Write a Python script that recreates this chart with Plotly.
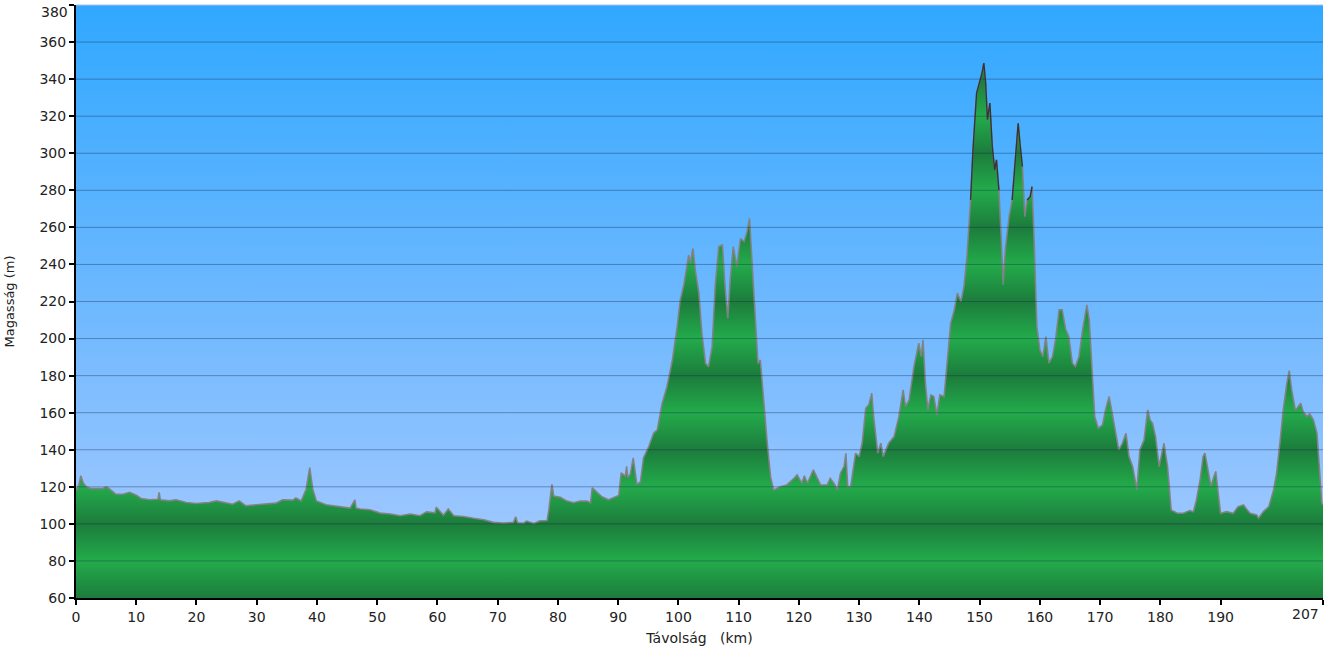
import plotly.graph_objects as go

# ---- data ----
dist_km = [0, 0.5, 0.8, 1.2, 1.7, 2.5, 3.5, 4.4, 5.0, 5.5, 6.6, 7.8, 8.9, 10.0, 10.8, 12.2, 13.6, 13.8, 14.0,
           15.5, 16.6, 18.3, 19.9, 22.1, 23.3, 24.4, 26.0, 27.1, 28.2, 29.9, 31.6, 33.2, 34.3, 36.0, 36.5, 37.4,
           38.2, 38.8, 39.3, 39.9, 41.5, 42.2, 43.9, 45.5, 46.3, 46.5, 47.2, 48.8, 50.5, 52.2, 53.8, 55.5, 57.1,
           58.2, 59.6, 59.8, 61.0, 61.8, 62.7, 64.3, 66.0, 67.7, 69.3, 71.0, 72.6, 73.0, 73.3, 74.3, 74.8, 76.0,
           77.0, 78.2, 78.5, 79.0, 79.3, 80.4, 81.5, 82.6, 83.7, 84.8, 85.4, 85.7, 86.5, 87.3, 88.4, 89.3, 90.1,
           90.5, 91.2, 91.4, 91.6, 92.0, 92.5, 93.1, 93.7, 94.2, 95.1, 95.9, 96.5, 97.3, 98.1, 99.0, 99.8, 100.3,
           100.9, 101.7, 102.0, 102.4, 102.8, 103.4, 103.9, 104.5, 105.0, 105.6, 106.1, 106.7, 107.3, 107.7,
           108.2, 108.6, 109.1, 109.7, 110.3, 110.9, 111.4, 111.8, 112.2, 112.8, 113.2, 113.6, 114.1, 114.7,
           115.3, 115.8, 116.9, 118.0, 119.2, 119.7, 120.5, 120.9, 121.4, 122.4, 123.6, 124.7, 125.2, 125.8,
           126.4, 126.9, 127.5, 127.8, 128.1, 128.6, 129.4, 130.0, 130.5, 131.1, 131.6, 132.1, 132.4, 133.1,
           133.6, 134.0, 134.9, 135.8, 136.6, 137.3, 137.7, 138.3, 139.1, 139.9, 140.3, 140.6, 141.0, 141.4,
           141.9, 142.4, 142.9, 143.4, 144.1, 144.6, 145.2, 145.8, 146.3, 146.9, 147.4, 147.9, 148.5, 148.9,
           149.5, 150.1, 150.4, 150.7, 151.0, 151.3, 151.7, 152.1, 152.5, 152.8, 153.2, 153.6, 153.9, 154.3,
           154.9, 155.4, 156.0, 156.4, 156.7, 157.1, 157.5, 157.9, 158.4, 158.7, 159.0, 159.5, 160.0, 160.5,
           161.0, 161.5, 162.1, 162.6, 163.2, 163.7, 164.3, 164.8, 165.4, 165.9, 166.5, 167.1, 167.8, 168.2,
           168.7, 169.1, 169.7, 170.4, 170.9, 171.5, 172.0, 172.6, 173.1, 173.7, 174.3, 174.8, 175.4, 176.1,
           176.6, 177.3, 177.9, 178.3, 178.7, 179.2, 179.8, 180.6, 181.2, 181.8, 182.8, 183.8, 184.9, 185.5,
           186.0, 186.6, 187.1, 187.4, 187.9, 188.4, 188.9, 189.2, 189.6, 190.0, 191.0, 192.1, 192.9, 193.8,
           194.3, 194.9, 196.0, 196.3, 197.1, 198.0, 198.8, 199.3, 199.9, 200.4, 201.0, 201.4, 201.8, 202.4,
           202.7, 203.3, 203.7, 204.3, 204.8, 205.4, 206.0, 206.4, 206.8, 207.0]

elev_m = [118, 121, 126, 122, 120, 119, 119, 119, 120, 119, 116, 116, 117, 115.5, 113.7, 113, 113.3, 117, 113,
          112.4, 113, 111.5, 111, 111.5, 112.4, 111.5, 110.6, 112.4, 109.7, 110.3, 110.6, 111.2, 113, 112.8, 114,
          112.4, 118.7, 130.4, 118.7, 112.4, 110.3, 110, 109.4, 108.5, 113, 108.5, 108, 107.6, 105.8, 105.3,
          104.4, 105.3, 104.4, 106.5, 106, 109, 104.7, 108, 104.4, 104, 103, 102.2, 100.8, 100.4, 100.8, 103.8,
          100.6, 100.4, 101.5, 100.2, 101.6, 101.8, 107.8, 121.3, 115, 114.4, 112.3, 111.4, 112.3, 112.3, 111.4,
          119.5, 117, 114.6, 113, 114.4, 115.3, 127.5, 125.7, 131, 125, 126.6, 135.6, 121.3, 122.6, 135.6, 141.9,
          149, 150.8, 165, 174, 188.4, 206.4, 220.8, 228.9, 245, 240.5, 248.7, 237, 224.4, 202.8, 186.6, 184.8,
          195.6, 228, 249.6, 250.5, 229.8, 210.9, 231.6, 249.6, 238.8, 254, 252.3, 257.7, 264.9, 244.2, 211.8,
          186.6, 188.4, 166.8, 145.2, 125.4, 118.2, 120, 121, 124.6, 126.4, 121.9, 126, 121.9, 129.1, 121, 121,
          124.6, 121.9, 118.3, 127.3, 130.9, 138.1, 120.1, 120.1, 138.1, 136.3, 143.5, 162.4, 164.2, 170.5,
          157.9, 138.1, 143.5, 136.3, 143.5, 147.1, 157.9, 172.3, 163.3, 166.9, 184.9, 197.5, 190.3, 199.3,
          175.9, 161.5, 169.6, 168.7, 158.8, 169.6, 168.7, 186.7, 208.3, 215.5, 224.5, 220, 228.1, 244.3, 274.9,
          301.9, 332.5, 339.7, 343.3, 348.7, 337.9, 318.1, 327.1, 303.7, 291, 296.4, 280.2, 253.2, 229, 249, 266,
          274.8, 301.8, 316.2, 305.4, 292.8, 265.8, 274.8, 276.6, 282, 256.8, 206.5, 193.9, 190.3, 201.1, 186.7,
          190.3, 199.3, 215.5, 215.5, 204.7, 201.1, 186.7, 184.9, 190.3, 204.7, 218.2, 210.1, 181.3, 157.9,
          151.6, 153.4, 161.5, 168.7, 159.7, 148.9, 139.9, 143.5, 148.9, 136.3, 130.9, 118.3, 139.9, 145.3,
          161.5, 156.1, 154.3, 147.1, 130.9, 143.5, 130.9, 107.5, 105.7, 105.7, 107.2, 106.6, 113, 123.8, 136.4,
          138.2, 129.2, 120.2, 125.6, 128.3, 116.6, 105.7, 106.6, 105.7, 109.3, 110.2, 108, 105.7, 104.8, 103,
          106.6, 109.3, 118.3, 127.3, 145.3, 161.5, 175.9, 182.7, 172.3, 161.5, 162.4, 165.1, 160.6, 157.9,
          159.3, 156.1, 148.9, 130.9, 111.1, 110.2]

x_tick_vals = [0, 10, 20, 30, 40, 50, 60, 70, 80, 90, 100, 110, 120, 130, 140, 150, 160, 170, 180, 190, 207]
x_tick_text = ["0", "10", "20", "30", "40", "50", "60", "70", "80", "90", "100", "110", "120", "130",
               "140", "150", "160", "170", "180", "190", ""]
y_tick_vals = [60, 80, 100, 120, 140, 160, 180, 200, 220, 240, 260, 280, 300, 320, 340, 360, 380]
y_tick_text = ["60", "80", "100", "120", "140", "160", "180", "200", "220", "240", "260", "280", "300",
               "320", "340", "360", ""]
y_grid_vals = [80, 100, 120, 140, 160, 180, 200, 220, 240, 260, 280, 300, 320, 340, 360]

X_MIN, X_MAX = 0, 207
Y_MIN, Y_MAX = 60, 380

FONT = "DejaVu Sans"

fig = go.Figure()

# sky gradient background
fig.add_trace(go.Scatter(
    x=[X_MIN, X_MAX, X_MAX, X_MIN, X_MIN], y=[Y_MIN, Y_MIN, Y_MAX, Y_MAX, Y_MIN],
    mode="lines", line=dict(width=0), fill="toself",
    fillgradient=dict(type="vertical", start=Y_MIN, stop=Y_MAX,
                      colorscale=[[0, "#abcbff"], [0.5, "#6db8ff"], [1, "#30a8ff"]]),
    hoverinfo="skip", showlegend=False))

# banded green gradient (period 40 m)
dark, light = "#1c7c3c", "#23ab4b"
band_scale = []
n = 16
for i in range(n + 1):
    band_scale.append([i / n, dark if i % 2 == 0 else light])

fig.add_trace(go.Scatter(
    x=dist_km, y=elev_m, mode="lines",
    line=dict(color="rgba(130,130,130,0.95)", width=1.6),
    fill="tozeroy",
    fillgradient=dict(type="vertical", start=Y_MIN, stop=Y_MAX, colorscale=band_scale),
    hoverinfo="skip", showlegend=False))

# darker outline on the high parts
hi = [e if e >= 268 else None for e in elev_m]
fig.add_trace(go.Scatter(
    x=dist_km, y=hi, mode="lines", line=dict(color="rgba(40,40,40,0.85)", width=1.4),
    connectgaps=False, hoverinfo="skip", showlegend=False))

shapes = [dict(type="line", xref="paper", x0=0, x1=1, yref="y", y0=v, y1=v,
               line=dict(color="rgba(20,40,70,0.38)", width=1), layer="above")
          for v in y_grid_vals]
# light top border of the plot area
shapes.append(dict(type="line", xref="paper", x0=0, x1=1, yref="paper", y0=1, y1=1,
                   line=dict(color="#b8b8f0", width=1), layer="above"))

fig.update_layout(
    width=1326, height=652,
    margin=dict(l=76, r=3, t=5, b=54),
    paper_bgcolor="white", plot_bgcolor="white",
    font=dict(family=FONT, size=13, color="#222"),
    shapes=shapes,
    xaxis=dict(range=[X_MIN, X_MAX], tickvals=x_tick_vals, ticktext=x_tick_text,
               tickfont=dict(family=FONT, size=14, color="#222"),
               showgrid=False, zeroline=False, showline=True, linecolor="black", linewidth=2,
               ticks="outside", ticklen=5, tickwidth=2, tickcolor="black",
               title=dict(text="Távolság\u00a0\u00a0\u00a0(km)", font=dict(family=FONT, size=14), standoff=9),
               layer="above traces", automargin=False),
    yaxis=dict(range=[Y_MIN, Y_MAX], tickvals=y_tick_vals, ticktext=y_tick_text,
               tickfont=dict(family=FONT, size=14, color="#222"),
               showgrid=False, zeroline=False, showline=True, linecolor="black", linewidth=2,
               ticks="outside", ticklen=5, tickwidth=2, tickcolor="black",
               title=dict(text="Magasság (m)", font=dict(family=FONT, size=13), standoff=22),
               layer="above traces", automargin=False),
    annotations=[
        dict(x=207, y=0, xref="x", yref="paper", yanchor="top", xanchor="right",
             text="207", showarrow=False, yshift=-6, xshift=-2,
             font=dict(family=FONT, size=14, color="#222")),
        dict(x=0, y=380, xref="paper", yref="y", yanchor="top", xanchor="right",
             text="380", showarrow=False, yshift=3, xshift=-6,
             font=dict(family=FONT, size=14, color="#222")),
    ],
)

fig.write_html("out.html", config={"displayModeBar": False},
               post_script="document.body.style.margin='0';document.body.style.overflow='hidden';")
